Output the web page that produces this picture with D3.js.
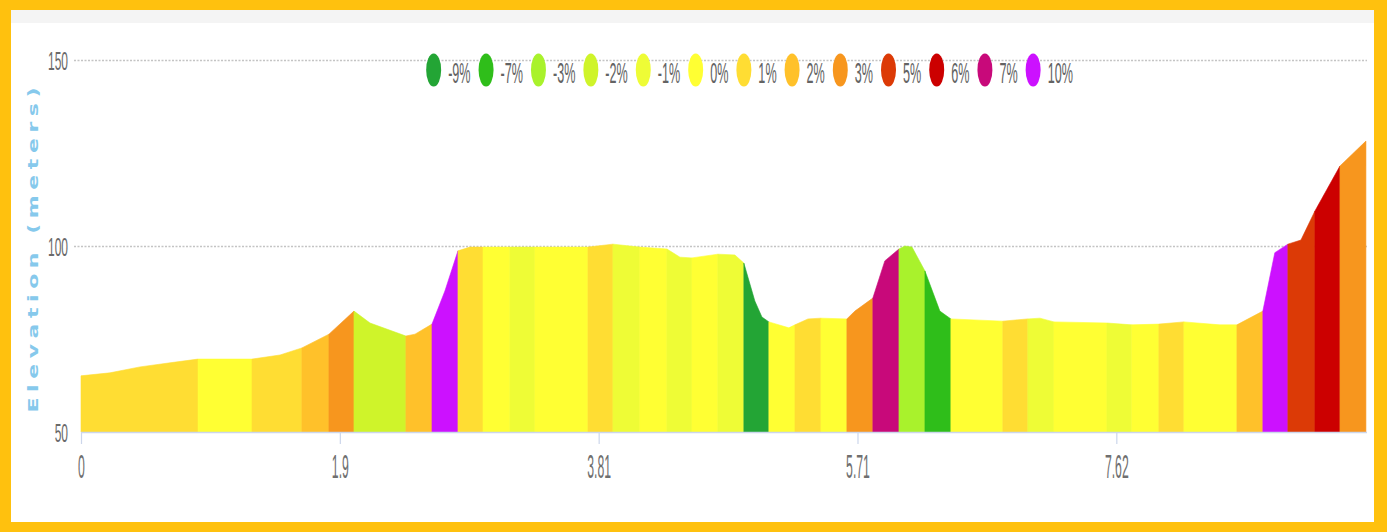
<!DOCTYPE html>
<html><head><meta charset="utf-8">
<script src="https://cdn.jsdelivr.net/npm/d3@7"></script>
<style>body{margin:0;background:#fff}svg{display:block}</style>
</head><body><svg id="c" width="1387" height="532"></svg>
<script>
// ---- data ----
const gradeLabels = ["-9%","-7%","-3%","-2%","-1%","0%","1%","2%","3%","5%","6%","7%","10%"];
const gradeColors = ["#23a535","#2fbe1a","#a9f22c","#cff42a","#eefc36","#ffff33","#ffdd33","#ffc12a","#f7961e","#dc3a06","#cc0000","#c8097a","#cc11ff"];

const profileKm = [0,0.213,0.434,0.655,0.861,1.258,1.464,1.625,1.824,2.008,2.126,2.390,2.457,2.582,2.677,2.773,2.861,2.957,3.155,3.339,3.729,3.913,4.111,4.310,4.406,4.494,4.685,4.810,4.876,4.957,5.009,5.060,5.207,5.252,5.348,5.443,5.634,5.693,5.825,5.913,6.017,6.061,6.113,6.208,6.318,6.399,6.781,6.965,7.054,7.157,7.547,7.730,7.929,8.113,8.378,8.503,8.694,8.782,8.878,8.974,9.077,9.261,9.452];
const profileElev = [65.1,65.9,67.5,68.6,69.6,69.6,70.7,72.6,76.3,82.5,79.3,75.8,76.3,79.0,87.9,98.7,99.7,99.7,99.7,99.7,99.7,100.5,99.7,99.2,97.0,96.8,97.8,97.6,95.4,85.2,80.9,79.6,78.0,78.8,80.4,80.6,80.4,82.5,86.0,96.0,99.2,100.0,99.7,93.3,82.5,80.4,79.8,80.4,80.6,79.6,79.3,78.8,79.0,79.6,78.8,78.8,82.5,98.2,100.5,101.6,109.4,121.5,128.2];

const segEndKm = [0.861,1.258,1.625,1.824,2.008,2.390,2.582,2.773,2.957,3.155,3.339,3.729,3.913,4.111,4.310,4.494,4.685,4.876,5.060,5.252,5.443,5.634,5.825,6.017,6.208,6.399,6.781,6.965,7.157,7.547,7.730,7.929,8.113,8.503,8.694,8.878,9.077,9.261,9.452];
const segGrade = ["1%","0%","1%","2%","3%","-2%","2%","10%","1%","0%","-1%","0%","1%","-1%","0%","-1%","0%","-1%","-9%","0%","1%","0%","3%","7%","-3%","-7%","0%","1%","-1%","0%","-1%","0%","1%","0%","2%","10%","5%","6%","3%"];

const yTickValues = [50,100,150];
const gridValues = [100,150];
const xTickValues = [0,1.904,3.808,5.712,7.616];
const xTickLabels = ["0","1.9","3.81","5.71","7.62"];
const yTitle = "Elevation (meters)";

// ---- drawing ----
const svg = d3.select("#c");
const W = 1387, H = 532;
svg.append("rect").attr("width",W).attr("height",H).attr("fill","#ffc10e");
svg.append("rect").attr("x",11).attr("y",10).attr("width",1363).attr("height",512).attr("fill","#ffffff");
svg.append("rect").attr("x",11).attr("y",10).attr("width",1363).attr("height",13).attr("fill","#f4f4f4");

const x = d3.scaleLinear().domain([0,9.46]).range([81,1367]);
const y = d3.scaleLinear().domain([50,150]).range([432,60]);
const color = d3.scaleOrdinal().domain(gradeLabels).range(gradeColors);

// gridlines
const grid = svg.append("g").attr("transform","translate(74,0)")
  .call(d3.axisLeft(y).tickValues(gridValues).tickSize(-(1367-74)).tickFormat(""));
grid.select(".domain").remove();
grid.selectAll("line").attr("stroke","#c4c4c4").attr("stroke-width",1.6).attr("stroke-dasharray","2,1.5");

// areas
function elevAt(k){
  const i = d3.bisectLeft(profileKm,k);
  if(i<=0) return profileElev[0];
  if(i>=profileKm.length) return profileElev[profileElev.length-1];
  if(profileKm[i]===k) return profileElev[i];
  const k0=profileKm[i-1],k1=profileKm[i];
  const t=(k-k0)/(k1-k0);
  return profileElev[i-1]+t*(profileElev[i]-profileElev[i-1]);
}
const area = d3.area().x(d=>x(d[0])).y0(y(50)).y1(d=>y(d[1]));
const segs = segEndKm.map((e,i)=>{
  const s = i===0?0:segEndKm[i-1];
  const pts=[[s,elevAt(s)]];
  profileKm.forEach((k,j)=>{ if(k>s+1e-9 && k<e-1e-9) pts.push([k,profileElev[j]]); });
  pts.push([e,elevAt(e)]);
  return {grade:segGrade[i], pts};
});
svg.append("g").selectAll("path").data(segs).join("path")
  .attr("d",d=>area(d.pts))
  .attr("fill",d=>color(d.grade))
  .attr("stroke",d=>color(d.grade))
  .attr("stroke-width",0.6);

// x axis
const xa = svg.append("g").attr("transform",`translate(0,${y(50)})`)
  .call(d3.axisBottom(x).tickValues(xTickValues).tickFormat((d,i)=>xTickLabels[i]).tickSize(12));
xa.select(".domain").attr("stroke","#ccd6eb").attr("stroke-width",1.5).attr("d",`M${x(0)},0.5H1367`);
xa.selectAll(".tick line").attr("stroke","#ccd6eb").attr("stroke-width",1.2);
xa.selectAll(".tick text")
  .attr("y",0).attr("dy",0)
  .attr("transform","translate(0,46) scale(0.36,1)")
  .attr("font-family","Liberation Sans, Arial, sans-serif")
  .attr("font-size",34).attr("fill","#6f6f6f");

// y axis labels
const ya = svg.append("g").attr("transform","translate(74,0)")
  .call(d3.axisLeft(y).tickValues(yTickValues).tickSize(0));
ya.select(".domain").remove();
ya.selectAll(".tick text")
  .attr("x",0).attr("dy","0.36em")
  .attr("transform","translate(-6,0) scale(0.48,1)")
  .attr("font-family","Liberation Sans, Arial, sans-serif")
  .attr("font-size",25).attr("fill","#6a6a6a");

// y title
svg.append("text")
  .attr("transform","translate(38,250) rotate(-90) scale(1,0.66)")
  .attr("text-anchor","middle")
  .attr("font-family","DejaVu Sans, sans-serif")
  .attr("font-weight","bold")
  .attr("font-size",22)
  .attr("textLength",325).attr("lengthAdjust","spacing")
  .attr("fill","#86c9ec")
  .text(yTitle);

// legend
const sx = 0.42;
const lg = svg.append("g");
const items = lg.selectAll("g").data(gradeLabels).join("g");
items.append("ellipse").attr("rx",7.5).attr("ry",16.5).attr("cx",7.5).attr("cy",0).attr("fill",(d,i)=>gradeColors[i]);
items.append("text").text(d=>d)
  .attr("font-family","Liberation Sans, Arial, sans-serif")
  .attr("font-size",30).attr("fill","#636363").attr("dy","0.36em")
  .attr("transform",`translate(22,2) scale(${sx},1)`);
let widths=[];
items.each(function(){ widths.push(15+7+d3.select(this).select("text").node().getComputedTextLength()*sx); });
const gap = 8;
const total = d3.sum(widths)+gap*(widths.length-1);
let cx = 749.5 - total/2;
items.attr("transform",(d,i)=>{ const t=`translate(${cx},70)`; cx+=widths[i]+gap; return t; });
</script>
</body></html>
